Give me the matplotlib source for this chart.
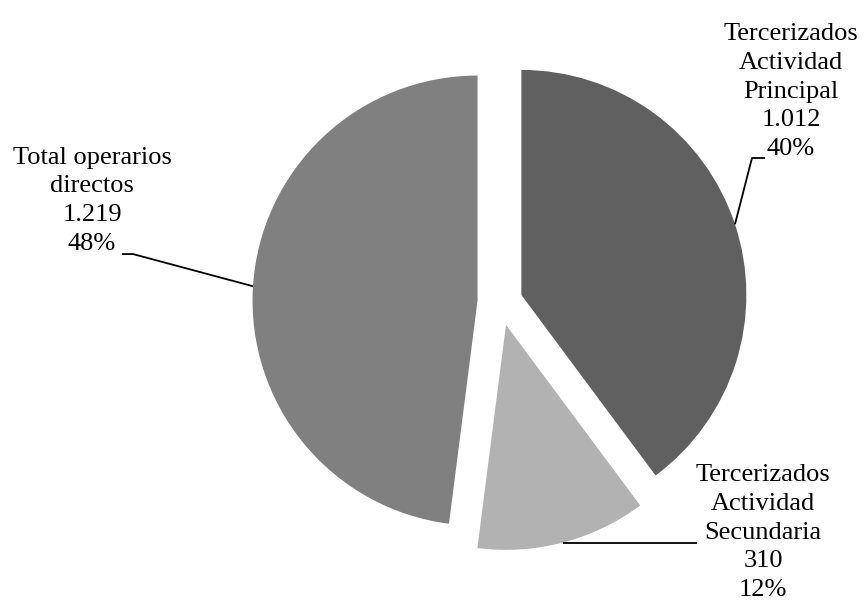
import numpy as np
import matplotlib.pyplot as plt

# datos
categorias = ['Tercerizados\nActividad\nPrincipal', 'Tercerizados\nActividad\nSecundaria',
              'Total operarios\ndirectos']
valores = [1012, 310, 1219]
valores_txt = ['1.012', '310', '1.219']
colores = ['#606060', '#b2b2b2', '#808080']

plt.rcParams['font.family'] = ['Liberation Serif', 'DejaVu Serif']

fig = plt.figure(figsize=(8.64, 6.06), dpi=100)
ax = fig.add_axes([0, 0, 1, 1])

wedges, _ = ax.pie(valores, colors=colores, startangle=90, counterclock=False,
                   explode=[0.1, 0.105, 0.1], radius=1)

# pixel -> datos (centro 500,302 ; 225 px por unidad)
ax.set_xlim(-500 / 225, 364 / 225)
ax.set_ylim(-304 / 225, 302 / 225)
ax.set_aspect('auto')
ax.axis('off')

total = sum(valores)
pct = [f'{round(v / total * 100):d}%' for v in valores]

# posiciones de etiquetas (texto, codo, fin de linea); None = misma altura que el ancla
pos_texto = [(1.293, 0.935), (1.169, -1.025), (-1.813, 0.45)]
codos = [[(1.12, 0.64), (1.178, 0.64)],
         [(0.876, None)],
         [(-1.631, 0.213), (-1.68, 0.213)]]

for w, cat, vt, p, xy, cd in zip(wedges, categorias, valores_txt, pct, pos_texto, codos):
    ang = np.deg2rad((w.theta1 + w.theta2) / 2)
    cx, cy = w.center
    ax0 = cx + w.r * np.cos(ang)
    ay0 = cy + w.r * np.sin(ang)
    xs = [ax0] + [c[0] for c in cd]
    ys = [ay0] + [ay0 if c[1] is None else c[1] for c in cd]
    ax.plot(xs, ys, color='black', lw=1.3, solid_capstyle='butt')
    ax.text(xy[0], xy[1], f'{cat}\n{vt}\n{p}', ha='center', va='center',
            multialignment='center', fontsize=19, linespacing=1.4)

fig.savefig('out.png', dpi=100)
